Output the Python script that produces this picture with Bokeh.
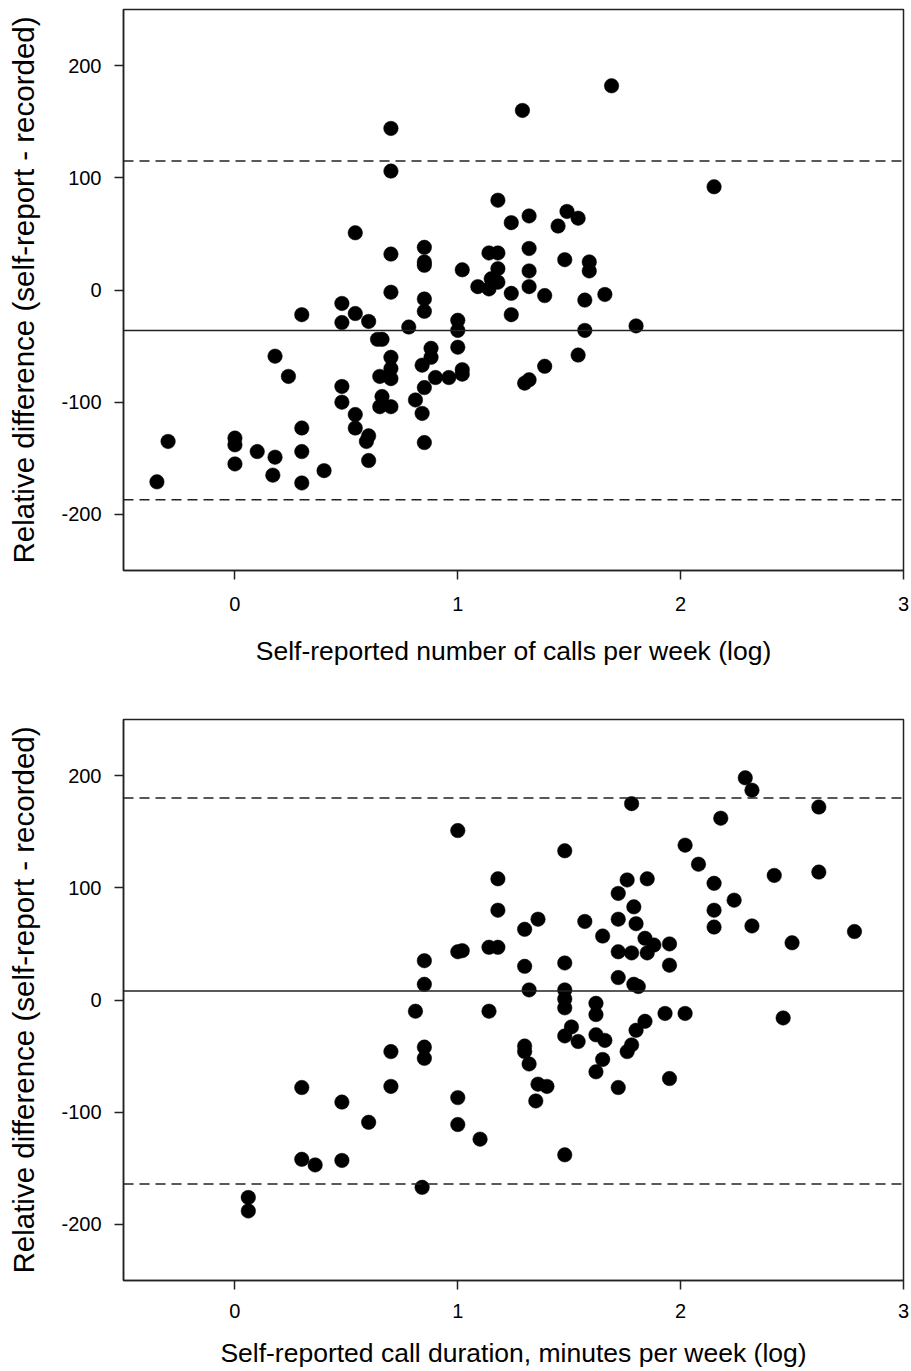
from bokeh.plotting import figure
from bokeh.models import Span, FixedTicker, Range1d, PrintfTickFormatter
from bokeh.layouts import column
from bokeh.embed import file_html
from bokeh.resources import INLINE

# ---------------- data ----------------
x_ticks = [0, 1, 2, 3]
y_ticks = [-200, -100, 0, 100, 200]

y_label = "Relative difference (self-report - recorded)"
calls_label = "Self-reported number of calls per week (log)"
duration_label = "Self-reported call duration, minutes per week (log)"

calls_x = [-0.35, -0.30, 0.00, 0.00, 0.00, 0.10, 0.18, 0.17, 0.18, 0.24,
           0.30, 0.30, 0.30, 0.30, 0.40, 0.48, 0.48, 0.48, 0.48, 0.54,
           0.54, 0.54, 0.54, 0.60, 0.60, 0.59, 0.60, 0.70, 0.70, 0.70,
           0.70, 0.64, 0.66, 0.70, 0.70, 0.65, 0.70, 0.66, 0.65, 0.70,
           0.78, 0.85, 0.85, 0.85, 0.85, 0.85, 0.88, 0.88, 0.84, 0.85,
           0.81, 0.84, 0.85, 0.90, 0.96, 1.00, 1.00, 1.00, 1.02, 1.02,
           1.02, 1.09, 1.14, 1.15, 1.18, 1.18, 1.14, 1.18, 1.18, 1.24,
           1.24, 1.24, 1.29, 1.32, 1.32, 1.32, 1.32, 1.30, 1.32, 1.39,
           1.39, 1.45, 1.48, 1.49, 1.54, 1.54, 1.57, 1.57, 1.59, 1.59,
           1.66, 1.69, 1.80, 2.15]
calls_y = [-171, -135, -132, -138, -155, -144, -149, -165, -59, -77,
           -22, -123, -144, -172, -161, -12, -29, -86, -100, -21,
           -111, -123, 51, -28, -130, -135, -152, -2, 32, 106,
           144, -44, -44, -60, -70, -77, -79, -95, -104, -104,
           -33, -8, -19, 38, 25, 22, -52, -60, -67, -87,
           -98, -110, -136, -78, -78, -27, -36, -51, -71, -75,
           18, 3, 1, 10, 7, 19, 33, 33, 80, 60,
           -3, -22, 160, 66, 37, 17, 3, -83, -80, -5,
           -68, 57, 27, 70, 64, -58, -9, -36, 25, 17,
           -4, 182, -32, 92]
calls_mean = -36
calls_upper = 115
calls_lower = -187

duration_x = [0.06, 0.06, 0.30, 0.30, 0.36, 0.48, 0.48, 0.60, 0.70, 0.70,
              0.81, 0.84, 0.85, 0.85, 0.85, 0.85, 1.00, 1.00, 1.02, 1.00,
              1.00, 1.10, 1.14, 1.14, 1.18, 1.18, 1.18, 1.30, 1.30, 1.32,
              1.30, 1.30, 1.32, 1.35, 1.36, 1.40, 1.36, 1.48, 1.48, 1.48,
              1.48, 1.48, 1.48, 1.48, 1.51, 1.54, 1.57, 1.62, 1.62, 1.62,
              1.62, 1.65, 1.65, 1.66, 1.72, 1.72, 1.72, 1.72, 1.72, 1.76,
              1.76, 1.78, 1.78, 1.78, 1.79, 1.79, 1.80, 1.80, 1.81, 1.84,
              1.84, 1.85, 1.85, 1.88, 1.93, 1.95, 1.95, 1.95, 2.02, 2.02,
              2.08, 2.15, 2.15, 2.15, 2.18, 2.24, 2.29, 2.32, 2.32, 2.42,
              2.46, 2.50, 2.62, 2.62, 2.78]
duration_y = [-176, -188, -78, -142, -147, -91, -143, -109, -46, -77,
              -10, -167, -42, -52, 35, 14, 151, 43, 44, -87,
              -111, -124, -10, 47, 47, 108, 80, 63, 30, 9,
              -41, -46, -57, -90, -75, -77, 72, 133, 33, 9,
              1, -7, -32, -138, -24, -37, 70, -3, -13, -31,
              -64, 57, -53, -36, 95, 72, 43, 20, -78, 107,
              -46, 175, 42, -40, 83, 14, 68, -27, 12, 55,
              -19, 108, 42, 49, -12, 50, 31, -70, 138, -12,
              121, 104, 80, 65, 162, 89, 198, 187, 66, 111,
              -16, 51, 172, 114, 61]
duration_mean = 8
duration_upper = 180
duration_lower = -164

FONT = "Liberation Sans"
INK = "#222222"


def make_plot(xs, ys, mean, upper, lower, xlabel, b_top, b_bottom,
              lab_standoff, title_standoff):
    p = figure(width=911, height=b_top + 561 + b_bottom,
               x_range=Range1d(-0.5, 3), y_range=Range1d(-250, 250),
               output_backend="svg", toolbar_location=None,
               min_border_left=123, min_border_right=8,
               min_border_top=b_top, min_border_bottom=b_bottom)
    p.grid.visible = False
    p.outline_line_color = INK
    p.outline_line_width = 1.5
    p.background_fill_color = "white"
    p.border_fill_color = "white"

    p.add_layout(Span(location=mean, dimension="width",
                      line_color=INK, line_width=1.5))
    for loc in (upper, lower):
        p.add_layout(Span(location=loc, dimension="width",
                          line_color=INK, line_width=1.5, line_dash="10 6"))

    p.scatter(xs, ys, size=14.5, fill_color="black", line_color="black",
              line_width=0.5)

    p.xaxis.ticker = FixedTicker(ticks=x_ticks, minor_ticks=[])
    p.yaxis.ticker = FixedTicker(ticks=y_ticks, minor_ticks=[])
    for ax in (p.xaxis[0], p.yaxis[0]):
        ax.formatter = PrintfTickFormatter(format="%d")
        ax.axis_line_color = INK
        ax.axis_line_width = 1.5
        ax.major_tick_line_color = INK
        ax.major_tick_line_width = 1.5
        ax.major_tick_in = 0
        ax.major_tick_out = 9
        ax.minor_tick_line_color = None
        ax.major_label_text_font = FONT
        ax.major_label_text_font_size = "20px"
        ax.major_label_text_color = "black"
        ax.axis_label_text_font = FONT
        ax.axis_label_text_font_style = "normal"
        ax.axis_label_text_color = "black"
    p.xaxis.axis_label = xlabel
    p.xaxis.axis_label_text_font_size = "26.5px"
    p.xaxis.major_label_standoff = lab_standoff
    p.xaxis.axis_label_standoff = title_standoff
    p.yaxis.axis_label = y_label
    p.yaxis.axis_label_text_font_size = "29.5px"
    p.yaxis.major_label_standoff = 13
    p.yaxis.axis_label_standoff = 18
    return p


p1 = make_plot(calls_x, calls_y, calls_mean, calls_upper, calls_lower,
               calls_label, 9, 100, 17, 22)
p2 = make_plot(duration_x, duration_y, duration_mean, duration_upper,
               duration_lower, duration_label, 49, 90, 14, 17)

layout = column(p1, p2, spacing=0)
open("out.html", "w").write(file_html(layout, INLINE))
